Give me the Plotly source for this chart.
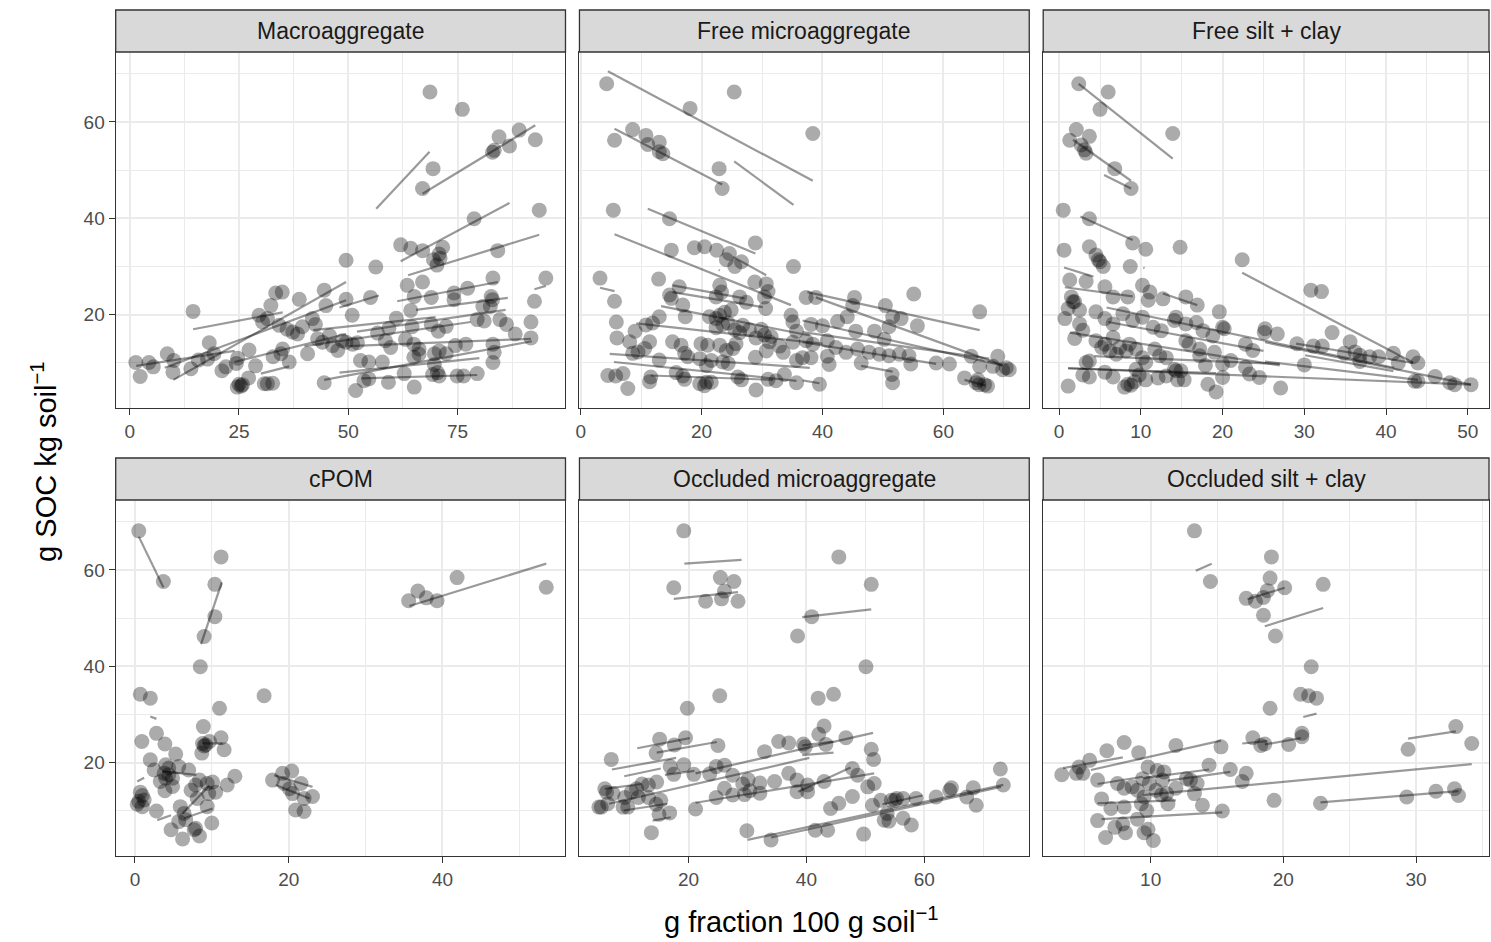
import plotly.graph_objects as go

W, H = 1491, 942

panel_titles = ["Macroaggregate", "Free microaggregate", "Free silt + clay",
                "cPOM", "Occluded microaggregate", "Occluded silt + clay"]

# ---------------- data: (fraction, SOC) points ----------------
macro_pts = [(1.4,10.1),(2.4,7.2),(4.4,10.1),(5.4,9.2),(8.6,11.9),(9.9,8.1),(10.1,10.5),(14.0,8.8),(14.5,20.7),(15.7,10.6),
(18.2,14.2),(17.8,10.8),(19.3,11.9),(21.1,8.4),(22.0,9.2),(24.4,9.9),(24.7,11.0),(27.3,12.7),(28.8,9.4),(25.0,5.6),(25.5,5.2),
(24.6,5.0),(25.8,5.5),(27.2,6.9),(30.8,5.7),(31.5,5.7),(32.7,5.8),(29.6,19.9),(30.4,18.5),(31.5,19.2),(32.3,21.9),(33.4,24.5),
(34.9,24.7),(34.2,17.8),(32.8,11.3),(34.6,11.9),(35.0,12.9),(36.5,10.2),(37.3,16.4),(38.4,16.0),(38.8,23.2),(40.7,11.9),
(41.8,19.2),(44.5,25.1),(44.9,21.9),(44.5,5.9),(45.7,15.7),(46.4,13.6),(47.6,12.6),(44.1,14.3),(49.5,31.3),(49.5,23.2),(49.5,14.3),
(36.0,17.0),(39.5,17.5),(42.5,18.0),(43.0,15.0),
(68.7,66.2),(76.1,62.6),(69.4,50.3),(67.0,46.2),(84.5,56.9),(83.0,53.7),(83.4,54.1),(86.9,55.0),(89.1,58.3),(92.8,56.3),
(93.7,41.7),(78.8,39.9),(62.0,34.5),(64.3,33.8),(67.0,33.3),(71.6,34.0),(70.8,32.6),(69.5,31.4),(70.3,30.3),(71.0,31.7),
(84.2,33.3),(56.3,29.9),(63.5,26.1),(67.0,26.8),(65.1,23.8),(69.0,23.6),(74.2,24.5),(74.2,23.1),(77.3,25.5),(83.1,27.6),
(82.7,23.8),(83.0,23.1),(82.5,21.7),(80.8,21.7),(95.2,27.6),(92.6,22.8),(91.8,18.5),(91.8,15.2),(55.1,23.6),(50.9,19.9),
(61.0,19.3),(64.3,20.9),(64.6,17.5),(59.3,17.2),(56.7,16.2),(69.0,18.0),(72.4,17.6),(70.6,16.6),(79.5,19.0),(81.1,18.7),
(84.7,19.0),(86.2,18.0),(88.2,16.0),(48.6,14.6),(51.0,13.9),(52.1,14.2),(58.5,14.6),(59.7,13.2),(63.1,14.9),(65.0,13.9),
(66.2,12.9),(66.2,11.8),(65.0,11.2),(69.7,11.9),(70.8,12.5),(72.4,11.9),(69.7,9.7),(70.4,8.0),(70.8,7.3),(69.3,7.6),
(74.5,13.6),(76.9,13.9),(74.9,7.3),(76.4,7.3),(79.5,7.8),(83.1,13.9),(83.4,12.2),(83.1,10.1),(52.8,10.5),(54.7,10.2),
(57.8,10.2),(62.8,7.8),(53.6,6.3),(54.7,6.7),(59.2,6.0),(51.7,4.3),(65.1,5.0)]

freemicro_pts = [(4.3,67.9),(25.4,66.2),(18.1,62.8),(38.4,57.6),(5.6,56.2),(8.6,58.4),(10.8,57.2),(11.1,55.3),(13.0,55.8),
(13.0,53.8),(13.6,53.4),(22.9,50.3),(23.4,46.2),(5.4,41.7),(14.7,39.9),(15.0,33.4),(18.8,33.9),(20.5,34.1),(22.5,33.4),
(24.6,32.7),(24.1,31.4),(25.5,30.0),(26.6,31.0),(28.9,34.9),(35.2,30.0),(3.2,27.6),(12.9,27.4),(5.6,22.8),(5.9,18.5),
(6.0,15.2),(5.8,7.3),(4.5,7.4),(7.0,7.8),(7.8,4.7),(8.1,14.4),(9.0,16.6),(8.6,12.0),(9.5,12.3),(10.6,13.0),(11.4,14.4),
(10.8,17.9),(11.9,18.3),(13.0,19.6),(13.0,10.6),(11.6,7.1),(11.4,6.1),(14.7,24.1),(15.0,23.4),(16.3,25.8),(16.9,22.0),
(17.3,19.6),(15.2,14.4),(16.6,13.7),(17.2,12.0),(17.7,11.3),(15.8,8.0),(16.9,7.3),(17.2,6.6),(19.9,14.0),(21.0,13.7),
(19.7,10.9),(20.8,9.5),(21.6,10.5),(19.7,5.7),(20.8,6.0),(21.6,6.0),(20.5,5.3),(21.3,19.6),(22.4,19.2),(23.0,19.9),
(23.8,20.5),(24.9,21.0),(23.0,26.1),(23.3,24.7),(22.4,23.7),(22.4,17.3),(23.5,18.0),(24.4,18.3),(25.5,16.9),(26.3,16.3),
(23.0,13.7),(24.1,12.6),(25.2,13.0),(25.7,14.0),(23.5,10.2),(24.4,9.9),(26.0,7.1),(26.6,6.5),(26.3,23.7),(27.4,22.6),
(28.8,26.8),(30.7,26.4),(31.0,24.8),(30.4,23.7),(30.6,21.3),(26.8,17.8),(27.9,16.9),(29.0,15.2),(29.9,17.0),(30.4,15.8),
(31.5,15.5),(31.2,14.4),(28.9,11.2),(30.7,12.5),(32.9,13.5),(33.5,12.2),(35.1,14.3),(35.7,10.5),(29.0,4.4),(31.0,6.6),
(32.3,6.3),(33.7,7.6),(35.7,5.9),(34.8,19.9),(35.1,18.5),(35.7,16.6),(37.3,23.6),
(38.9,23.6),(45.3,23.6),(45.0,21.9),(44.1,19.6),(50.4,21.9),(51.6,19.6),(51.0,17.5),(53.0,19.2),(55.7,17.7),(55.1,24.3),
(66.0,20.6),(38.1,18.0),(40.0,17.7),(42.5,18.6),(45.5,16.6),(48.6,16.6),(50.2,14.9),(37.3,14.6),(38.4,13.9),(40.8,14.6),
(42.2,13.2),(43.9,12.2),(45.8,12.9),(47.7,12.2),(49.4,11.8),(51.0,11.5),(52.7,11.8),(54.3,11.5),(54.6,9.8),(36.7,11.1),
(38.1,11.1),(40.8,11.4),(41.1,9.7),(46.4,10.0),(58.8,10.0),(61.0,9.8),(64.6,11.4),(66.0,9.3),(69.0,11.4),(68.2,9.3),
(69.8,8.6),(70.9,8.6),(70.4,9.0),(51.5,7.6),(51.6,5.9),(63.5,6.9),(65.4,5.9),(65.9,5.5),(66.8,5.5),(65.7,6.5),(67.3,5.2),
(39.5,5.6)]

freesilt_pts = [(2.4,67.9),(6.0,66.2),(5.0,62.6),(13.9,57.6),(2.1,58.4),(3.7,57.0),(1.3,56.2),(2.7,55.2),(3.1,54.2),(3.3,53.5),
(6.8,50.3),(8.8,46.2),(0.5,41.7),(3.7,39.9),(0.6,33.4),(3.7,34.1),(4.5,32.4),(4.8,31.4),(5.0,31.0),(5.4,30.0),(9.0,34.9),
(10.6,33.6),(8.7,30.0),(14.8,34.0),(22.4,31.4),(1.3,27.2),(3.3,26.9),(5.6,25.8),(6.6,23.7),(1.5,23.7),(1.7,22.7),(1.1,21.3),
(2.5,21.0),(1.9,22.7),(0.7,19.2),(2.5,18.1),(2.9,16.8),(1.9,15.1),(4.5,20.6),(5.6,19.2),(6.6,18.1),(8.4,23.7),(10.2,26.1),
(10.9,23.0),(11.1,24.7),(12.7,23.3),(15.5,23.7),(16.9,22.0),(19.6,20.6),(7.8,20.2),(9.0,18.8),(10.2,19.5),(11.5,17.4),
(12.5,16.7),(14.1,18.8),(14.3,19.5),(15.5,18.1),(16.8,18.4),(17.6,16.7),(18.8,15.6),(20.0,17.4),(20.2,17.1),(4.5,14.6),
(5.6,13.9),(6.6,15.3),(7.4,13.2),(6.2,12.5),(8.2,12.5),(7.0,11.8),(8.6,13.9),(5.2,13.2),(3.7,10.4),(3.3,10.1),(9.4,12.9),
(10.2,11.1),(10.6,10.1),(9.4,8.7),(11.7,12.9),(12.3,11.5),(13.1,11.1),(14.1,8.7),(14.9,8.4),(15.5,14.6),(15.9,13.9),
(17.2,12.9),(17.2,11.5),(19.0,12.2),(17.9,9.5),(20.0,9.8),(21.0,10.5),(20.0,7.0),(19.2,4.0),(18.2,5.6),(22.8,9.1),(23.3,7.7),
(24.5,7.0),(22.8,13.9),(23.7,12.6),(25.1,16.3),(1.1,5.2),(2.9,7.5),(3.7,7.1),(5.6,8.1),(6.6,7.1),(8.0,5.0),(8.8,5.4),(9.2,6.1),
(9.8,7.5),(8.4,5.6),(10.6,6.5),(12.1,6.9),(13.1,7.3),(14.5,6.5),(15.3,6.5),(14.3,8.4),
(30.8,25.1),(32.1,24.8),(25.2,17.1),(26.7,16.0),(33.4,16.3),(29.1,14.0),(31.1,13.5),(32.2,13.5),(35.6,14.4),(34.9,12.0),
(36.2,12.3),(36.8,11.6),(36.8,10.3),(38.0,11.3),(39.1,11.3),(40.9,12.0),(41.5,10.0),(43.3,11.3),(43.9,10.0),(30.0,9.6),
(27.1,4.8),(43.5,6.2),(43.9,6.2),(46.0,7.2),(47.8,5.9),(48.4,5.5),(50.4,5.5)]

cpom_pts = [(0.5,68.1),(3.7,57.6),(11.2,62.7),(10.4,57.0),(10.4,50.3),(9.0,46.2),(8.5,39.9),(0.7,34.2),(2.0,33.4),(16.8,33.9),
(11.0,31.3),(2.8,26.1),(0.9,24.4),(3.9,23.9),(8.9,27.5),(8.8,24.0),(9.0,23.5),(8.7,22.0),(9.2,23.7),(9.7,24.4),(11.2,25.2),
(11.6,22.7),(5.3,21.8),(2.0,20.6),(2.5,18.5),(4.0,19.6),(4.4,18.9),(3.8,17.8),(4.0,16.8),(4.4,17.5),(4.9,16.8),(5.7,19.2),
(7.0,18.5),(3.3,16.1),(3.9,14.2),(4.9,15.1),(0.7,13.9),(0.96,13.2),(0.5,12.0),(1.2,12.3),(0.3,11.4),(0.96,10.9),(2.8,10.0),
(8.4,16.4),(7.3,14.3),(7.9,15.4),(9.4,15.7),(10.1,16.0),(9.6,13.6),(10.5,13.9),(12.0,15.4),(13.0,17.2),(8.1,12.6),(9.4,10.9),
(5.9,10.9),(6.4,9.5),(6.6,8.2),(5.7,7.8),(4.7,6.1),(6.2,4.2),(7.7,6.1),(8.4,4.8),(7.9,6.4),(10.0,7.5),(17.9,16.4),(19.2,17.8),
(20.4,18.3),(19.4,15.7),(20.1,14.6),(21.6,15.7),(20.5,13.6),(22.0,12.6),(23.1,13.0),(20.9,10.2),(22.0,9.9),(35.6,53.6),
(36.8,55.6),(37.9,54.2),(39.3,53.6),(41.9,58.4),(53.5,56.4)]

occmicro_pts = [(19.2,68.1),(17.5,56.3),(25.4,58.4),(27.7,57.6),(26.1,55.6),(25.6,54.0),(22.9,53.5),(28.4,53.5),(38.5,46.3),
(40.9,50.3),(25.3,33.9),(19.8,31.3),(6.9,20.7),(15.1,24.9),(14.5,22.0),(17.6,23.7),(19.5,25.2),(25.0,23.6),(32.9,22.3),
(35.3,24.4),(37.0,24.1),(39.5,23.9),(5.8,14.6),(6.1,13.9),(5.2,10.8),(4.8,10.8),(6.3,11.5),(7.2,13.6),(8.9,10.8),(9.7,10.8),
(9.2,12.8),(10.3,13.9),(11.2,14.6),(12.1,15.6),(13.2,15.4),(13.2,12.8),(11.5,12.8),(14.5,11.4),(14.6,16.0),(15.3,12.2),
(15.0,9.3),(16.8,9.6),(13.7,5.5),(16.9,19.2),(17.5,17.6),(19.2,19.6),(20.9,17.6),(21.2,10.4),(23.6,17.7),(24.7,19.2),
(26.1,19.5),(27.5,17.4),(26.1,14.7),(24.7,12.8),(27.5,13.3),(29.5,13.4),(29.2,15.6),(30.1,16.5),(32.1,15.8),(32.1,13.7),
(30.4,14.2),(34.6,16.1),(37.0,17.8),(38.4,14.0),(38.4,16.4),(29.9,5.9),(34.0,4.0),
(45.5,62.7),(51.0,57.0),(50.1,39.9),(42.0,33.4),(44.6,34.2),(43.0,27.6),(42.1,25.9),(43.3,23.8),(46.7,25.2),(39.8,23.3),
(51.0,22.8),(51.4,20.7),(47.8,18.8),(48.7,17.4),(50.4,15.0),(51.5,15.7),(43.0,16.1),(40.2,15.4),(40.2,14.0),(47.8,13.0),
(45.5,11.6),(44.1,10.5),(51.2,11.2),(52.6,12.2),(53.7,9.5),(53.2,8.1),(54.0,7.9),(54.4,12.2),(55.0,12.2),(55.3,12.6),
(56.4,12.6),(56.4,8.5),(57.8,7.1),(49.7,5.2),(58.6,12.6),(62.0,12.9),(64.3,14.3),(64.6,14.8),(67.2,12.9),(68.3,14.8),
(68.8,11.2),(72.9,18.7),(73.4,15.4),(41.5,6.0),(43.6,6.0)]

occsilt_pts = [(13.3,68.1),(14.5,57.6),(17.2,54.1),(17.9,53.5),(18.5,50.6),(18.5,54.3),(18.8,55.7),(19.0,58.3),(19.1,62.7),
(20.1,56.3),(23.0,57.0),(19.4,46.3),(19.0,31.3),(22.1,39.9),(21.3,34.2),(21.9,33.9),(22.5,33.4),(21.4,26.1),(21.4,25.4),
(20.4,23.8),(18.6,23.9),(18.3,23.6),(17.7,25.2),(19.3,12.2),(22.8,11.6),(33.0,27.5),(34.2,24.0),(29.4,22.8),(29.3,12.9),
(31.5,14.1),(32.9,14.6),(33.2,13.2),(3.3,17.5),(4.4,17.8),(4.6,19.1),(5.4,20.5),(4.9,17.8),(6.7,22.5),(8.0,24.2),(9.1,22.1),
(11.9,23.6),(15.3,23.3),(14.4,19.5),(16.0,18.6),(17.2,17.8),(16.9,16.1),(6.0,16.4),(7.5,15.7),(8.0,14.7),(8.6,15.0),
(9.0,14.3),(9.4,16.7),(9.8,19.1),(9.9,15.7),(10.5,18.4),(11.0,18.1),(10.9,16.4),(10.4,14.3),(10.8,13.3),(11.3,11.5),
(11.2,13.6),(11.9,14.7),(12.7,16.7),(13.0,16.4),(13.5,15.7),(13.3,13.6),(13.9,11.2),(6.3,12.5),(7.0,10.5),(8.0,10.8),
(9.3,11.5),(9.7,10.1),(9.5,12.9),(6.0,8.0),(6.6,4.5),(7.3,6.6),(7.9,7.3),(8.1,5.5),(9.0,8.3),(9.5,5.5),(10.2,3.9),(9.8,6.2),
(15.4,10.0)]

# ---------------- data: fitted line segments (x0, y0, x1, y1) ----------------
macro_lines = [(1.5,9.4,24,12.5),(10,6.5,49.5,26.8),(8,9.0,49.5,23.0),(14.5,17.0,35,20.5),(24,10.2,49.5,16.0),
(30,7.8,36.5,9.3),(44.5,6.5,92,14.5),(48,21.5,57,24.0),(56.4,42.0,68.6,53.8),(67.0,45.1,92.8,59.3),(62.0,31.1,86.9,43.2),
(63.7,28.2,93.7,36.6),(61.2,22.8,84.2,26.8),(65.5,21.0,86.5,23.5),(92.6,25.3,95.2,26.0),(52,16.5,86,21.0),
(50,13.5,91.8,15.0),(48,8.0,80,11.0),(53,6.8,79.5,7.5),(40,13.5,78,18.5),(42,16.8,70,19.5)]

freemicro_lines = [(4.5,70.5,38.4,47.8),(5.6,58.6,23.4,47.0),(25.4,51.8,35.2,42.8),(11.1,42.0,28.9,32.7),
(5.6,36.7,34.8,22.0),(22.85,29.3,23.0,29.15),(3.2,25.6,5.6,24.9),(25.2,32.0,30.7,28.2),(15.2,26.1,27.1,23.4),
(15.2,24.7,30.1,21.6),(13.3,21.8,37.9,15.7),(9.2,18.2,40,14.0),(4.8,11.9,37.9,9.0),(5.5,10.2,35.7,6.3),
(11.6,7.4,31.8,6.5),(37.5,24.7,66.0,16.8),(38.9,23.6,69.8,9.5),(36.7,18.8,69.8,9.5),(36.7,16.4,67.6,10.9),
(36.7,14.3,58.8,9.8),(46.4,9.4,51.6,8.2),(36.7,6.4,39.5,5.8),(63.5,6.5,67.0,5.3)]

freesilt_lines = [(2.4,67.9,13.9,52.4),(1.7,56.3,8.8,47.8),(5.5,49.0,8.8,46.2),(2.6,40.4,9.0,35.5),(10.3,29.8,10.45,29.7),
(22.4,28.7,43.3,10.1),(0.6,29.8,4.2,27.9),(0.7,25.7,9.0,23.8),(12.7,24.4,16.9,22.0),(5.8,21.5,41.0,9.0),
(1.3,16.3,27.0,9.5),(29.0,14.0,43.3,10.0),(30.1,11.6,40.9,8.3),(25.2,10.3,43.9,6.5),(1.1,8.9,50.4,5.5),
(25.2,14.3,50.4,5.5),(1.1,8.9,19.2,7.9),(4.3,11.4,27.0,9.8),(6,18.5,25,12.5)]

cpom_lines = [(0.5,66.9,3.7,56.4),(8.6,44.6,11.3,57.4),(2.0,29.6,2.8,29.1),(0.3,16.1,1.2,16.9),(2.9,8.1,4.7,9.1),
(3.5,18.2,8.0,17.5),(6.2,9.5,9.7,15.3),(6.4,8.5,10.1,10.5),(8.8,24.0,11.4,24.0),(18.1,17.4,23.1,15.0),
(18.3,15.4,22.7,12.6),(35.7,52.5,53.5,61.3)]

occmicro_lines = [(19.3,61.3,29.0,62.1),(17.5,54.0,28.4,55.4),(39.3,50.2,51.0,51.8),(11.3,23.0,20.2,25.1),
(14.6,22.1,24.8,24.3),(7.0,18.6,17.9,21.0),(9.1,17.2,15.3,18.8),(5.8,14.6,12.0,15.6),(6.5,11.5,40.5,21.0),
(9.0,10.1,16.4,11.5),(13.9,8.0,17.0,8.7),(21.2,17.8,51.3,26.2),(21.2,11.7,51.5,17.8),(38.6,14.0,47.5,19.0),
(30.0,4.0,73.4,15.4),(34.0,4.5,73.0,15.0),(52.9,11.4,59.7,13.2),(39.3,23.6,44.6,24.4),(39.3,21.6,44.6,22.1),
(16.0,17.5,21.0,18.3)]

occsilt_lines = [(13.4,59.8,14.6,61.3),(17.3,53.9,20.1,56.3),(18.6,48.3,23.0,52.1),(21.5,29.5,22.5,30.2),
(18.6,23.8,21.3,25.1),(29.4,25.0,33.0,26.5),(9.4,13.3,34.2,19.7),(22.8,11.8,33.2,14.1),(3.4,18.9,7.9,21.1),
(5.5,18.5,15.3,24.6),(6.0,15.6,9.4,17.1),(9.4,16.8,14.4,18.6),(11.3,16.3,16.0,18.1),(6.0,11.6,11.9,12.2),
(6.3,8.3,15.4,9.7),(16.9,24.0,18.8,24.5)]

# ---------------- tick settings ----------------
y_major = [20, 40, 60]
y_minor = [10, 30, 50, 70]
x_major = [[0, 25, 50, 75], [0, 20, 40, 60], [0, 10, 20, 30, 40, 50], [0, 20, 40], [20, 40, 60], [10, 20, 30]]
x_minor = [[12.5, 37.5, 62.5, 87.5], [10, 30, 50, 70], [5, 15, 25, 35, 45], [10, 30, 50], [10, 30, 50, 70], [5, 15, 25, 35]]

# ---------------- layout geometry (pixels) ----------------
px_cols = [(112, 563), (577, 1028), (1042, 1489)]
px_rows = [(52, 408), (500, 856)]
strip_h = 42
x_ranges = [[-3.2, 99.7], [-0.2, 74.2], [-1.95, 52.6], [-2.5, 56.0], [1.5, 77.8], [1.9, 35.5]]
y_range = [0.66, 74.5]

all_pts = [macro_pts, freemicro_pts, freesilt_pts, cpom_pts, occmicro_pts, occsilt_pts]
all_lines = [macro_lines, freemicro_lines, freesilt_lines, cpom_lines, occmicro_lines, occsilt_lines]

fig = go.Figure()
FONT = "Liberation Sans, Arial, sans-serif"
layout = dict(width=W, height=H, margin=dict(l=0, r=0, t=0, b=0),
              paper_bgcolor="white", plot_bgcolor="white", showlegend=False,
              font=dict(family=FONT))
shapes, annotations = [], []

GRID = "#EBEBEB"
DARK = "#333333"
TICKFONT = dict(size=19, color="#4D4D4D", family=FONT)

for i in range(6):
    r, c = divmod(i, 3)
    x0p, x1p = px_cols[c]
    y0p, y1p = px_rows[r]
    xd = [x0p / W, x1p / W]
    yd = [1 - y1p / H, 1 - y0p / H]
    n = "" if i == 0 else str(i + 1)
    xa, ya = "x" + n, "y" + n
    layout["xaxis" + n] = dict(domain=xd, anchor=ya, range=x_ranges[i], tickvals=x_major[i],
                               showgrid=True, gridcolor=GRID, gridwidth=2, zeroline=False,
                               showline=True, mirror=True, linecolor=DARK, linewidth=1.3,
                               ticks="outside", ticklen=6, tickwidth=1.2, tickcolor=DARK,
                               tickfont=TICKFONT,
                               minor=dict(tickvals=x_minor[i], showgrid=True, gridcolor=GRID, gridwidth=1, ticks=""))
    layout["yaxis" + n] = dict(domain=yd, anchor=xa, range=y_range, tickvals=y_major,
                               showgrid=True, gridcolor=GRID, gridwidth=2, zeroline=False,
                               showline=True, mirror=True, linecolor=DARK, linewidth=1.3,
                               ticks="outside" if c == 0 else "", ticklen=6, tickwidth=1.2, tickcolor=DARK,
                               showticklabels=(c == 0), tickfont=TICKFONT,
                               minor=dict(tickvals=y_minor, showgrid=True, gridcolor=GRID, gridwidth=1, ticks=""))
    # points
    xs = [p[0] for p in all_pts[i]]
    ys = [p[1] for p in all_pts[i]]
    fig.add_trace(go.Scatter(x=xs, y=ys, mode="markers", xaxis=xa, yaxis=ya, hoverinfo="skip",
                             marker=dict(size=15, color="rgba(0,0,0,0.33)", line=dict(width=0))))
    # fitted lines
    for (lx0, ly0, lx1, ly1) in all_lines[i]:
        fig.add_trace(go.Scatter(x=[lx0, lx1], y=[ly0, ly1], mode="lines", xaxis=xa, yaxis=ya, hoverinfo="skip",
                                 line=dict(color="rgba(0,0,0,0.4)", width=2.2)))
    # strip
    sy0, sy1 = y0p - strip_h, y0p
    shapes.append(dict(type="rect", xref="paper", yref="paper", x0=x0p / W, x1=x1p / W,
                       y0=1 - sy1 / H, y1=1 - sy0 / H, fillcolor="#D9D9D9",
                       line=dict(color=DARK, width=1.3), layer="above"))
    annotations.append(dict(text=panel_titles[i], xref="paper", yref="paper",
                            x=(x0p + x1p) / 2 / W, y=1 - (sy0 + sy1) / 2 / H,
                            showarrow=False, xanchor="center", yanchor="middle",
                            font=dict(size=23, color="#1A1A1A")))

annotations.append(dict(text="g SOC kg soil<sup>\u22121</sup>", xref="paper", yref="paper",
                        x=40 / W, y=1 - 462 / H, showarrow=False, textangle=-90,
                        xanchor="center", yanchor="middle", font=dict(size=29, color="black")))
annotations.append(dict(text="g fraction 100 g soil<sup>\u22121</sup>", xref="paper", yref="paper",
                        x=800 / W, y=1 - 920 / H, showarrow=False,
                        xanchor="center", yanchor="middle", font=dict(size=29, color="black")))

layout["shapes"] = shapes
layout["annotations"] = annotations
fig.update_layout(**layout)
fig.write_html("out.html")
